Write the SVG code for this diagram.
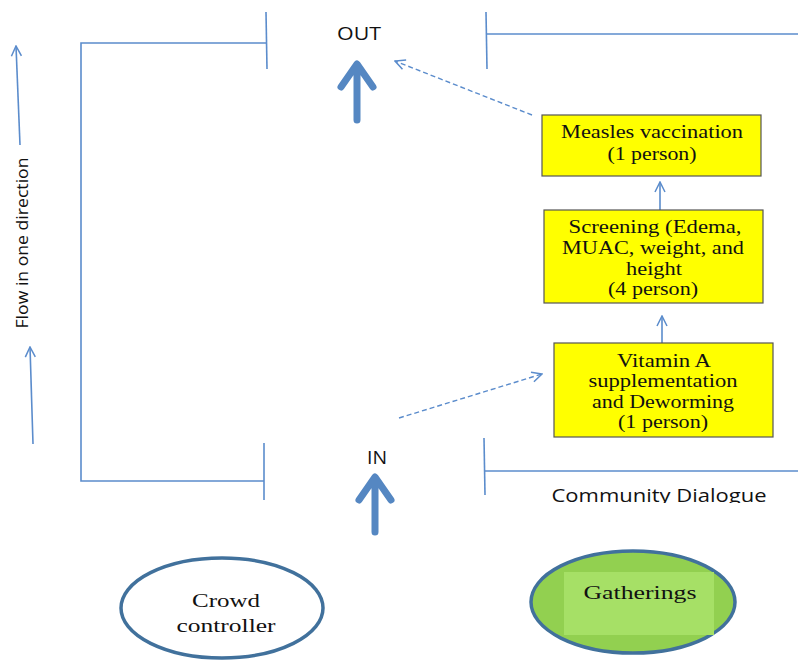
<svg xmlns="http://www.w3.org/2000/svg" width="798" height="660" viewBox="0 0 798 660">
<defs>
<style>
.ln{stroke:#5b8ccc;stroke-width:1.6;fill:none}
.dash{stroke:#5b8ccc;stroke-width:1.4;fill:none;stroke-dasharray:5 3}
.big{stroke:#5587c2;stroke-width:7;fill:none;stroke-linecap:round;stroke-linejoin:round}
.box{fill:#ffff00;stroke:#555;stroke-width:1.2}
.bt{font-family:"Liberation Serif",serif;font-size:19px;fill:#111;text-anchor:middle}
.st{font-family:"Open Sans","Liberation Sans",sans-serif;fill:#111}
.ell{stroke:#41719c;stroke-width:3.5}
</style>
<marker id="ah" viewBox="0 0 12 12" refX="11" refY="6" markerWidth="12" markerHeight="12" markerUnits="userSpaceOnUse" orient="auto">
<path d="M1,1 L11,6 L1,11" fill="none" stroke="#5b8ccc" stroke-width="1.5"/>
</marker>
<clipPath id="cdclip"><rect x="0" y="0" width="798" height="503"/></clipPath>
</defs>
<rect width="798" height="660" fill="#fff"/>
<g id="connectors">
<path class="ln" d="M20,145 L16,46" marker-end="url(#ah)"/>
<path class="ln" d="M33,444 L30,347" marker-end="url(#ah)"/>
<path class="ln" d="M266,43 L81,43 L81,481 L264,481"/>
<path class="ln" d="M266,12 L267,69"/>
<path class="ln" d="M264,443 L264,500"/>
<path class="ln" d="M486,12 L487,69"/>
<path class="ln" d="M486,34 L798,34"/>
<path class="ln" d="M484,438 L485,495"/>
<path class="ln" d="M485,471 L798,471"/>
<path class="dash" d="M532,115 L395,61" marker-end="url(#ah)"/>
<path class="dash" d="M399,418 L542,374" marker-end="url(#ah)"/>
<path class="ln" d="M660,210 L660,182" marker-end="url(#ah)"/>
<path class="ln" d="M662,343 L662,316" marker-end="url(#ah)"/>
<path class="big" d="M357,120 L357,66 M341,87 L357,64 L373,87"/>
<path class="big" d="M375,532 L375,478 M359,500 L375,477 L391,500"/>
</g>
<g id="flow-label">
<text class="st" font-size="17" text-anchor="middle" textLength="171" lengthAdjust="spacingAndGlyphs" transform="translate(28,243) rotate(-90)">Flow in one direction</text>
</g>
<g id="out-label"><text class="st" font-size="19" x="359" y="40" text-anchor="middle" textLength="44" lengthAdjust="spacingAndGlyphs">OUT</text></g>
<g id="in-label"><text class="st" font-size="19" x="377" y="464" text-anchor="middle" textLength="20" lengthAdjust="spacingAndGlyphs">IN</text></g>
<g id="community" clip-path="url(#cdclip)"><text class="st" font-size="19" x="659" y="502" text-anchor="middle" textLength="215" lengthAdjust="spacingAndGlyphs">Community Dialogue</text></g>
<g id="measles">
<rect class="box" x="542" y="115" width="219" height="61"/>
<text class="bt" x="652" y="138" textLength="182" lengthAdjust="spacingAndGlyphs">Measles vaccination</text>
<text class="bt" x="652" y="160" textLength="89" lengthAdjust="spacingAndGlyphs">(1 person)</text>
</g>
<g id="screening">
<rect class="box" x="544" y="210" width="219" height="93"/>
<text class="bt" x="655" y="233" textLength="173" lengthAdjust="spacingAndGlyphs">Screening (Edema,</text>
<text class="bt" x="653" y="254" textLength="182" lengthAdjust="spacingAndGlyphs">MUAC, weight, and</text>
<text class="bt" x="654" y="275" textLength="56" lengthAdjust="spacingAndGlyphs">height</text>
<text class="bt" x="653" y="295" textLength="90" lengthAdjust="spacingAndGlyphs">(4 person)</text>
</g>
<g id="vitamin">
<rect class="box" x="554" y="343" width="219" height="94"/>
<text class="bt" x="664" y="367" textLength="94" lengthAdjust="spacingAndGlyphs">Vitamin A</text>
<text class="bt" x="663" y="387" textLength="149" lengthAdjust="spacingAndGlyphs">supplementation</text>
<text class="bt" x="663" y="408" textLength="142" lengthAdjust="spacingAndGlyphs">and Deworming</text>
<text class="bt" x="663" y="428" textLength="90" lengthAdjust="spacingAndGlyphs">(1 person)</text>
</g>
<g id="crowd">
<ellipse class="ell" cx="222" cy="608" rx="101" ry="50" fill="#fff"/>
<text class="bt" font-size="20" x="226" y="607" textLength="68" lengthAdjust="spacingAndGlyphs">Crowd</text>
<text class="bt" font-size="20" x="226" y="632" textLength="99" lengthAdjust="spacingAndGlyphs">controller</text>
</g>
<g id="gatherings">
<ellipse class="ell" cx="633" cy="602" rx="102" ry="51" fill="#92d050"/>
<rect x="564" y="572" width="150" height="63" fill="#a6e066"/>
<text class="bt" font-size="20" x="640" y="599" textLength="113" lengthAdjust="spacingAndGlyphs">Gatherings</text>
</g>
</svg>
